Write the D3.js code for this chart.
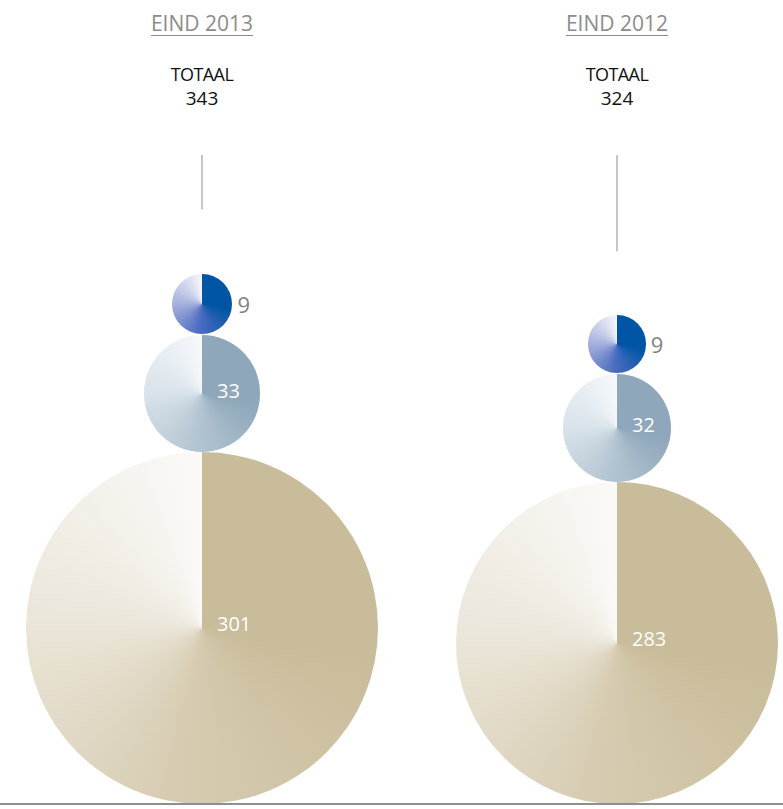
<!DOCTYPE html>
<html>
<head>
<meta charset="utf-8">
<script src="https://cdn.jsdelivr.net/npm/d3@7"></script>
<style>
  html, body { margin: 0; padding: 0; background: #fff; }
  svg { display: block; font-family: "Open Sans", "Noto Sans", sans-serif; }
</style>
</head>
<body>
<svg id="chart" width="783" height="809"></svg>
<script>
// Data
const columns = ['EIND 2013', 'EIND 2012'];
const totals = [343, 324];
const smallValues = [9, 9];
const midValues = [33, 32];
const largeValues = [301, 283];

// Layout / style
const WIDTH = 783, HEIGHT = 809;
const BASELINE_Y = 804;
const MAX_RADIUS = [176, 161];   // radius of the largest circle in each column
const SOLID_END_DEG = 100;       // solid wedge from 12 o'clock to here, then fade clockwise

// colour ramps: solid, then stops spread evenly from SOLID_END_DEG to 360deg
const RAMPS = {
    small: ['#0055a5', '#0055a5', '#4d6cc0', '#a8b2de', '#f6f6fb'],
    mid:   ['#8ea7ba', '#8ea7ba', '#b3c5d2', '#d9e3ea', '#f6f8fa'],
    large: ['#c9bc9a', '#c9bc9a', '#d6cbb0', '#ebe6da', '#fbfaf8']
};

const svg = d3.select('#chart');
const x = d3.scalePoint().domain(columns).range([202, 617]);

const gCircles = svg.append('g');

// bottom rule
svg.append('line')
    .attr('x1', 0).attr('x2', WIDTH)
    .attr('y1', BASELINE_Y).attr('y2', BASELINE_Y)
    .attr('stroke', '#8a9094').attr('stroke-width', 2);

function conicCss(ramp) {
    const fade = ramp.slice(1);
    const angle = d3.scaleLinear().domain([0, fade.length - 1]).range([SOLID_END_DEG, 360]);
    const stops = fade.map((c, k) => `${c} ${angle(k).toFixed(1)}deg`);
    return `conic-gradient(from 0deg, ${ramp[0]} 0deg, ${stops.join(', ')})`;
}

// circle filled with a conic gradient (SVG has none, so a round div in a foreignObject)
function drawConic(g, cx, cy, r, ramp) {
    g.append('foreignObject')
        .attr('x', cx - r).attr('y', cy - r)
        .attr('width', 2 * r).attr('height', 2 * r)
        .append('xhtml:div')
        .style('width', `${2 * r}px`)
        .style('height', `${2 * r}px`)
        .style('border-radius', '50%')
        .style('background', conicCss(ramp));
}

columns.forEach((col, i) => {
    const cx = x(col);
    const r = d3.scaleSqrt()
        .domain([0, d3.max([smallValues[i], midValues[i], largeValues[i]])])
        .range([0, MAX_RADIUS[i]]);

    const rL = r(largeValues[i]), rM = r(midValues[i]), rS = r(smallValues[i]);
    const cyL = BASELINE_Y - rL;
    const cyM = cyL - rL - rM;
    const cyS = cyM - rM - rS - 1;

    drawConic(gCircles, cx, cyL, rL, RAMPS.large);
    drawConic(gCircles, cx, cyM, rM, RAMPS.mid);
    drawConic(gCircles, cx, cyS, rS, RAMPS.small);

    // labels
    svg.append('text')
        .attr('x', cx + rS + 5).attr('y', cyS + 9)
        .attr('font-size', 22).attr('fill', '#7f7f7f')
        .text(smallValues[i]);
    svg.append('text')
        .attr('x', cx + 15).attr('y', cyM + 4)
        .attr('font-size', 20).attr('fill', '#fff')
        .text(midValues[i]);
    svg.append('text')
        .attr('x', cx + 15).attr('y', cyL + 3)
        .attr('font-size', 20).attr('fill', '#fff')
        .text(largeValues[i]);

    // header
    const head = svg.append('text')
        .attr('x', cx).attr('y', 31)
        .attr('text-anchor', 'middle')
        .attr('font-size', 21).attr('fill', '#8c8c8c')
        .text(col);
    const w = head.node().getComputedTextLength();
    svg.append('line')
        .attr('x1', cx - w / 2).attr('x2', cx + w / 2)
        .attr('y1', 35.5).attr('y2', 35.5)
        .attr('stroke', '#8c8c8c').attr('stroke-width', 1);

    svg.append('text')
        .attr('x', cx).attr('y', 81)
        .attr('text-anchor', 'middle')
        .attr('font-size', 18).attr('fill', '#111')
        .attr('letter-spacing', -0.6)
        .text('TOTAAL');
    svg.append('text')
        .attr('x', cx).attr('y', 105)
        .attr('text-anchor', 'middle')
        .attr('font-size', 19).attr('fill', '#111')
        .text(totals[i]);

    // connector
    svg.append('line')
        .attr('x1', cx).attr('x2', cx)
        .attr('y1', 155).attr('y2', cyS - rS - 64)
        .attr('stroke', '#8c8c8c').attr('stroke-width', 1);
});
</script>
</body>
</html>
